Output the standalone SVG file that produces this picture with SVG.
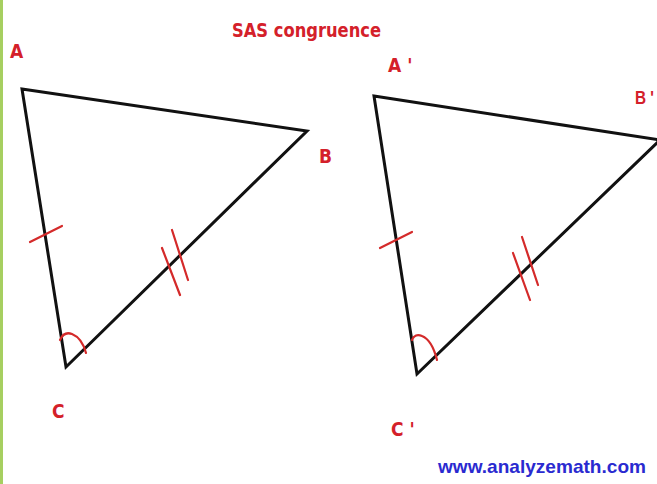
<svg xmlns="http://www.w3.org/2000/svg" width="657" height="484" viewBox="0 0 657 484">
<style>
.side{fill:none;stroke:#111;stroke-width:3;stroke-linejoin:miter}
.mark{fill:none;stroke:#d42a2a;stroke-width:2.2;stroke-linecap:round}
.lbl{font-family:"DejaVu Sans","Liberation Sans",sans-serif;font-stretch:condensed;font-weight:bold;fill:#d4202a;font-size:19px}
.web{font-family:"Liberation Sans",Arial,sans-serif;font-weight:bold;fill:#2a2ad0;font-size:19px}
.edge{font-family:"Liberation Sans",Arial,sans-serif;font-weight:bold;fill:#d4202a;font-size:18px}
</style>
<rect width="657" height="484" fill="#fff"/>
<rect x="0" y="0" width="3" height="484" fill="#a6cf60"/>
<text class="lbl" x="232" y="37" textLength="149" lengthAdjust="spacingAndGlyphs">SAS congruence</text>
<g id="triangle1">
<polygon class="side" points="22,89 307,131 66,367"/>
</g>
<g id="triangle2">
<polygon class="side" points="374,96 660,140 417,374"/>
</g>
<g id="marks">
<line class="mark" x1="30" y1="242" x2="62" y2="226"/>
<line class="mark" x1="162" y1="248" x2="180" y2="295"/>
<line class="mark" x1="172" y1="230" x2="188" y2="280"/>
<path class="mark" d="M60,340 Q64,331 72,334 Q82,338 86,353"/>
<line class="mark" x1="380" y1="248" x2="412" y2="232"/>
<line class="mark" x1="513" y1="253" x2="530" y2="300"/>
<line class="mark" x1="522" y1="237" x2="538" y2="285"/>
<path class="mark" d="M412,340 Q415,333 422,336 Q432,340 437,360"/>
</g>
<g id="labels">
<text class="lbl" x="10" y="58">A</text>
<text class="lbl" x="319" y="163">B</text>
<text class="lbl" x="52" y="418">C</text>
<text class="lbl" x="388" y="72">A '</text>
<text class="edge" x="635" y="104" textLength="19" lengthAdjust="spacingAndGlyphs">B '</text>
<text class="lbl" x="391" y="436">C '</text>
</g>
<text class="web" x="438" y="473" textLength="208" lengthAdjust="spacingAndGlyphs">www.analyzemath.com</text>
</svg>
